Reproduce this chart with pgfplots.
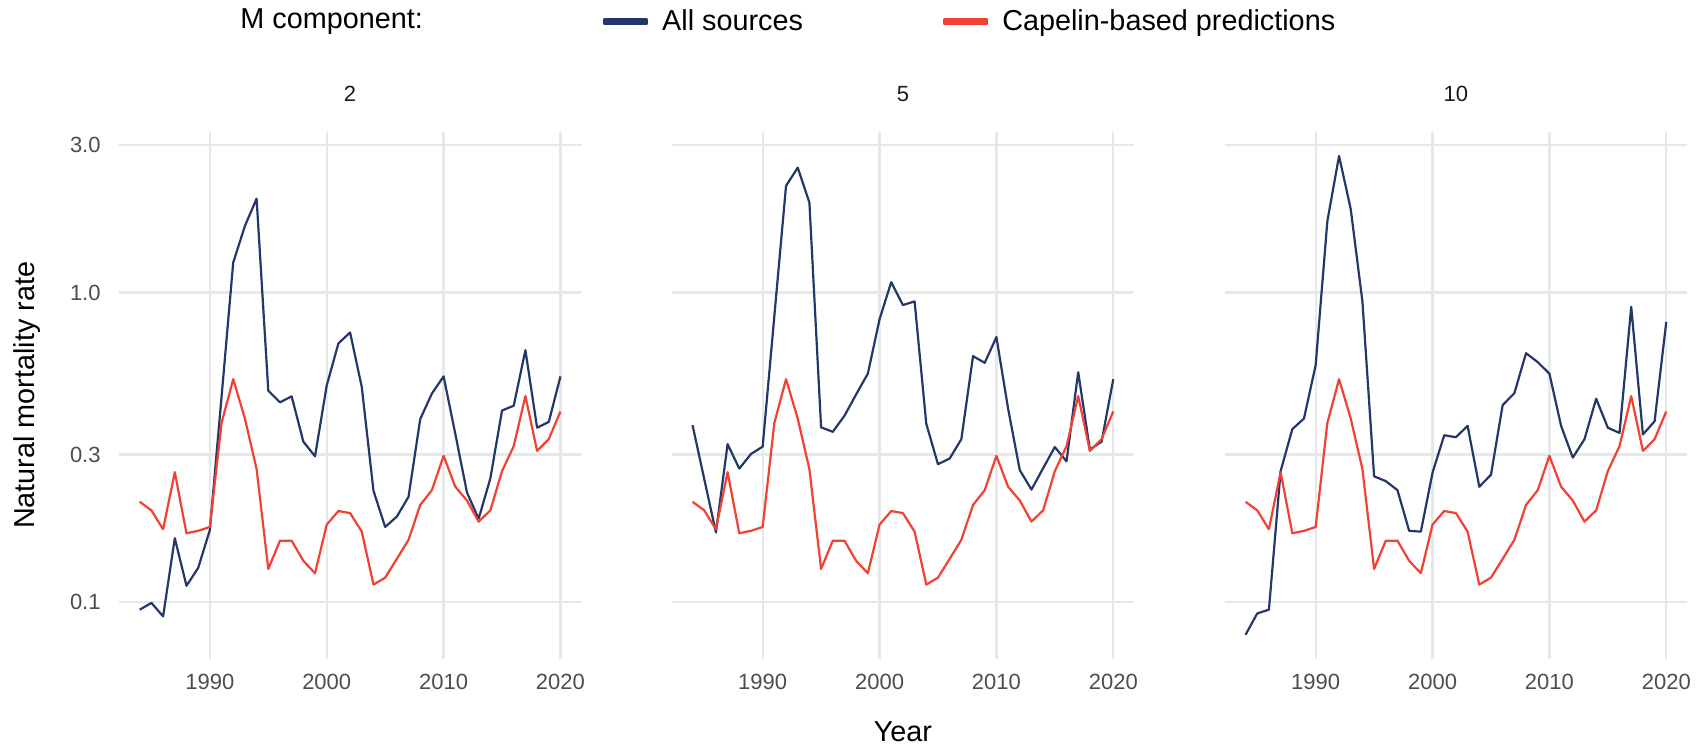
\documentclass[border=0pt]{standalone}
\usepackage{pgfplots}
\pgfplotsset{compat=1.18}
\usepackage{pgfplotstable}
\usepackage{fontspec}
\setmainfont{Liberation Sans}
\definecolor{navyM}{RGB}{35,56,105}
\definecolor{redM}{RGB}{240,65,50}
\definecolor{gridM}{RGB}{232,232,232}
\definecolor{tickM}{RGB}{77,77,77}
\definecolor{stripM}{RGB}{26,26,26}

\pgfplotstableread{
year cap all2 all5 all10
1984 0.211 0.0946 0.373 0.0785
1985 0.198 0.0995 0.250 0.092
1986 0.172 0.090 0.168 0.0946
1987 0.263 0.161 0.324 0.265
1988 0.167 0.113 0.270 0.362
1989 0.170 0.129 0.301 0.392
1990 0.175 0.171 0.318 0.583
1991 0.379 0.46 0.84 1.70
1992 0.525 1.25 2.21 2.76
1993 0.392 1.64 2.53 1.86
1994 0.269 2.01 1.95 0.936
1995 0.128 0.482 0.367 0.255
1996 0.158 0.442 0.355 0.246
1997 0.158 0.462 0.400 0.230
1998 0.136 0.330 0.469 0.170
1999 0.124 0.296 0.547 0.169
2000 0.178 0.501 0.819 0.262
2001 0.197 0.685 1.08 0.346
2002 0.194 0.743 0.911 0.341
2003 0.169 0.495 0.936 0.371
2004 0.114 0.229 0.377 0.236
2005 0.120 0.175 0.279 0.258
2006 0.138 0.189 0.291 0.433
2007 0.159 0.219 0.336 0.473
2008 0.206 0.390 0.623 0.637
2009 0.230 0.472 0.593 0.596
2010 0.297 0.536 0.718 0.547
2011 0.236 0.350 0.422 0.371
2012 0.213 0.226 0.267 0.293
2013 0.182 0.186 0.231 0.336
2014 0.198 0.251 0.271 0.454
2015 0.265 0.416 0.317 0.366
2016 0.319 0.431 0.285 0.352
2017 0.463 0.651 0.553 0.899
2018 0.308 0.366 0.311 0.348
2019 0.336 0.382 0.330 0.384
2020 0.413 0.536 0.525 0.804
}\mdata

\pgfplotsset{
  facet/.style={
    scale only axis, width=231.4pt, height=263.2pt,
    xmin=1982.2, xmax=2021.8, ymin=0.0658, ymax=3.296,
    axis line style={draw=none}, major tick length=0pt,
    grid=major, major grid style={gridM, line width=1.1pt},
    xtick={1990,2000,2010,2020}, xticklabels={1990,2000,2010,2020},
    ytick={0.1,0.3,1,3},
    xticklabel style={font=\fontsize{11}{13}\selectfont, text=tickM, anchor=center, inner sep=0pt, yshift=-11.6pt},
    yticklabel style={font=\fontsize{11}{13}\selectfont, text=tickM, anchor=east, inner sep=0pt, xshift=-8.85pt},
    title style={at={(axis description cs:0.5,1.0496)}, anchor=center, font=\fontsize{11}{13}\selectfont, text=stripM, inner sep=0pt},
    every axis plot/.append style={line width=1.1pt, line join=round, no markers},
  }
}

\begin{document}
\begin{tikzpicture}
\path[use as bounding box] (0pt,0pt) rectangle (850.5pt,-374pt);
\node[anchor=west, inner sep=0pt, font=\fontsize{14.4}{17}\selectfont] at (120pt,-11pt) {M component:};

\begin{axis}[ymode=log, facet, at={(59.35pt,-329.25pt)}, anchor=south west, title={2},
  yticklabels={0.1,0.3,1.0,3.0},
  ylabel={Natural mortality rate},
  ylabel style={at={(axis description cs:-0.19814,0.5)}, anchor=center, inner sep=0pt, font=\fontsize{14.4}{17}\selectfont},
  legend columns=2,
  legend image code/.code={\fill (0pt,-1.2pt) rectangle (21.5pt,1.2pt);},
  legend style={draw=none, fill=none, at={(axis description cs:1.0465,1.2092)}, anchor=west,
    inner sep=0pt, outer sep=0pt, font=\fontsize{14.4}{17}\selectfont,
    nodes={inner sep=0pt},
    /tikz/every odd column/.append style={column sep=7pt},
    /tikz/every even column/.append style={column sep=70pt}},
]
\addplot[navyM] table[x=year, y=all2] {\mdata};
\addlegendentry{All sources}
\addplot[redM] table[x=year, y=cap] {\mdata};
\addlegendentry{Capelin-based predictions}
\end{axis}

\begin{axis}[ymode=log, facet, at={(335.75pt,-329.25pt)}, anchor=south west, title={5},
  yticklabels={},
  xlabel={Year},
  xlabel style={at={(axis description cs:0.5,-0.1396)}, anchor=center, inner sep=0pt, font=\fontsize{14.4}{17}\selectfont},
]
\addplot[navyM] table[x=year, y=all5] {\mdata};
\addplot[redM] table[x=year, y=cap] {\mdata};
\end{axis}

\begin{axis}[ymode=log, facet, at={(612.25pt,-329.25pt)}, anchor=south west, title={10},
  yticklabels={},
]
\addplot[navyM] table[x=year, y=all10] {\mdata};
\addplot[redM] table[x=year, y=cap] {\mdata};
\end{axis}
\end{tikzpicture}
\end{document}
